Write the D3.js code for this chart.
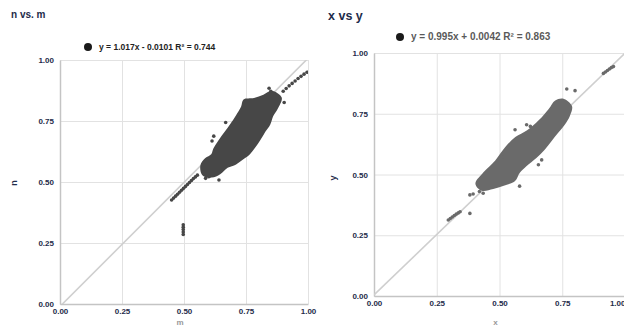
<!DOCTYPE html>
<html>
<head>
<meta charset="utf-8">
<script src="https://cdn.jsdelivr.net/npm/d3@7"></script>
<style>
body { margin: 0; background: #fff; }
svg { display: block; font-family: "Liberation Sans", Arial, sans-serif; }
</style>
</head>
<body>
<svg id="chart" width="624" height="328"></svg>
<script>
// shared axis ticks
const tickValues = [0, 0.25, 0.5, 0.75, 1];
const tickLabels = ["0.00", "0.25", "0.50", "0.75", "1.00"];

// ---- n vs. m ----
const mnTitle = "n vs. m";
const mnXName = "m";
const mnYName = "n";
const mnFitText = "y = 1.017x - 0.0101  R\u00b2 = 0.744";
const mnFit = [1.017, -0.0101]; // slope, intercept
// outline of the dense cloud (m, n)
const mnCloud = [
  [0.566, 0.568], [0.586, 0.598], [0.610, 0.614], [0.618, 0.636], [0.640, 0.672],
  [0.664, 0.706], [0.688, 0.740], [0.710, 0.774], [0.730, 0.808], [0.740, 0.838],
  [0.782, 0.844], [0.820, 0.858], [0.854, 0.874], [0.894, 0.846], [0.878, 0.800],
  [0.860, 0.770], [0.848, 0.736], [0.828, 0.706], [0.808, 0.672], [0.788, 0.642],
  [0.766, 0.614], [0.738, 0.592], [0.710, 0.572], [0.676, 0.558], [0.646, 0.532],
  [0.612, 0.518], [0.574, 0.528]
];
// single points around the cloud and on the diagonal
const mnPoints = [
  [0.843, 0.884], [0.850, 0.872], [0.904, 0.826], [0.668, 0.744], [0.620, 0.688],
  [0.613, 0.668], [0.752, 0.612], [0.587, 0.515], [0.641, 0.508], [0.600, 0.522],
  [0.450, 0.426], [0.458, 0.434], [0.466, 0.442], [0.474, 0.450], [0.482, 0.458],
  [0.490, 0.466], [0.498, 0.474], [0.506, 0.482], [0.514, 0.490], [0.522, 0.498],
  [0.530, 0.506], [0.538, 0.514], [0.546, 0.521], [0.554, 0.528],
  [0.497, 0.285], [0.497, 0.295], [0.497, 0.305], [0.497, 0.315], [0.497, 0.325],
  [0.900, 0.872], [0.912, 0.883], [0.924, 0.894], [0.936, 0.904], [0.948, 0.914],
  [0.960, 0.924], [0.972, 0.933], [0.984, 0.942], [0.996, 0.950]
];

// ---- x vs y ----
const xyTitle = "x vs y";
const xyXName = "x";
const xyYName = "y";
const xyFitText = "y = 0.995x + 0.0042  R\u00b2 = 0.863";
const xyFit = [0.995, 0.0042];
const xyCloud = [
  [0.404, 0.462], [0.437, 0.510], [0.483, 0.558], [0.523, 0.613], [0.563, 0.654],
  [0.610, 0.682], [0.656, 0.723], [0.696, 0.770], [0.722, 0.805], [0.755, 0.812],
  [0.789, 0.781], [0.780, 0.740], [0.760, 0.705], [0.733, 0.671], [0.707, 0.637],
  [0.680, 0.602], [0.647, 0.568], [0.607, 0.534], [0.581, 0.507], [0.561, 0.472],
  [0.517, 0.454], [0.475, 0.440], [0.429, 0.433]
];
const xyPoints = [
  [0.768, 0.852], [0.801, 0.845], [0.562, 0.684], [0.608, 0.705], [0.623, 0.698],
  [0.509, 0.572], [0.668, 0.560], [0.655, 0.540], [0.580, 0.452], [0.382, 0.416],
  [0.395, 0.420], [0.435, 0.423], [0.420, 0.430], [0.382, 0.340],
  [0.296, 0.313], [0.304, 0.319], [0.312, 0.325], [0.320, 0.331], [0.328, 0.337],
  [0.336, 0.342], [0.343, 0.347],
  [0.914, 0.916], [0.922, 0.922], [0.930, 0.928], [0.938, 0.934], [0.946, 0.940],
  [0.954, 0.944]
];

const svg = d3.select("#chart");

function drawPanel(p) {
  const x = d3.scaleLinear().domain([0, 1]).range(p.xr);
  const y = d3.scaleLinear().domain([0, 1]).range(p.yr);
  const g = svg.append("g");

  g.append("clipPath").attr("id", p.id + "-clip")
    .append("rect")
    .attr("x", p.xr[0]).attr("y", p.yr[1])
    .attr("width", p.xr[1] - p.xr[0]).attr("height", p.yr[0] - p.yr[1]);

  // grid
  g.append("g")
    .attr("transform", `translate(0,${p.yr[0]})`)
    .call(d3.axisBottom(x).tickValues(tickValues).tickSize(-(p.yr[0] - p.yr[1])).tickFormat(""))
    .call(a => a.select(".domain").remove())
    .selectAll("line").attr("stroke", "#e2e2e2");
  g.append("g")
    .attr("transform", `translate(${p.xr[0]},0)`)
    .call(d3.axisLeft(y).tickValues(tickValues).tickSize(-(p.xr[1] - p.xr[0])).tickFormat(""))
    .call(a => a.select(".domain").remove())
    .selectAll("line").attr("stroke", "#e2e2e2");

  // axis lines + labels
  const xa = g.append("g")
    .attr("transform", `translate(0,${p.yr[0]})`)
    .call(d3.axisBottom(x).tickValues(tickValues).tickSize(0).tickPadding(4)
      .tickFormat((d, i) => tickLabels[i]));
  const ya = g.append("g")
    .attr("transform", `translate(${p.xr[0]},0)`)
    .call(d3.axisLeft(y).tickValues(tickValues).tickSize(0).tickPadding(6)
      .tickFormat((d, i) => tickLabels[i]));
  [xa, ya].forEach(a => {
    a.select(".domain").attr("stroke", "#c4c4c4").attr("stroke-width", 1.5);
    a.selectAll("text")
      .attr("font-size", 8).attr("font-weight", "bold")
      .attr("fill", "#1e2b4a").attr("font-family", "Liberation Sans, Arial, sans-serif");
  });
  if (p.lastTickEnd) {
    xa.selectAll("text").filter(d => d === 1).attr("text-anchor", "end").attr("x", 0);
  }

  const plot = g.append("g").attr("clip-path", `url(#${p.id}-clip)`);

  // regression line
  plot.append("line")
    .attr("x1", x(0)).attr("y1", y(p.fit[1]))
    .attr("x2", x(1)).attr("y2", y(p.fit[0] + p.fit[1]))
    .attr("stroke", "#cfcfcf").attr("stroke-width", 1.6);

  // dense cloud
  plot.append("path")
    .datum(p.cloud)
    .attr("d", d3.line().x(d => x(d[0])).y(d => y(d[1])).curve(d3.curveCatmullRomClosed))
    .attr("fill", p.color);

  plot.selectAll("circle.pt")
    .data(p.points)
    .join("circle")
    .attr("class", "pt")
    .attr("cx", d => x(d[0])).attr("cy", d => y(d[1]))
    .attr("r", 1.8)
    .attr("fill", p.color);

  // title
  g.append("text")
    .attr("x", p.titlePos[0]).attr("y", p.titlePos[1])
    .attr("font-size", p.titleSize).attr("font-weight", "bold")
    .attr("fill", "#1e2b4a")
    .text(p.title);

  // legend
  g.append("circle")
    .attr("cx", p.legendPos[0]).attr("cy", p.legendPos[1])
    .attr("r", 4).attr("fill", "#1a1a1a");
  g.append("text")
    .attr("x", p.legendPos[0] + 11).attr("y", p.legendPos[1] + 3)
    .attr("font-size", p.legendSize).attr("font-weight", "bold")
    .attr("fill", "#222").attr("opacity", p.legendOpacity)
    .text(p.fitText);

  // axis names
  g.append("text")
    .attr("transform", `translate(${p.yNamePos[0]},${p.yNamePos[1]}) rotate(-90)`)
    .attr("text-anchor", "middle")
    .attr("font-size", 9).attr("font-weight", "bold").attr("fill", "#1e2b4a")
    .text(p.yName);
  g.append("text")
    .attr("x", (p.xr[0] + p.xr[1]) / 2 - 4).attr("y", 325)
    .attr("text-anchor", "middle")
    .attr("font-size", 8).attr("font-weight", "bold").attr("fill", "#999")
    .text(p.xName);
}

drawPanel({
  id: "mn", xr: [60, 308], yr: [304, 60],
  title: mnTitle, titlePos: [11, 18], titleSize: 10,
  fit: mnFit, fitText: mnFitText, legendPos: [88, 47], legendSize: 8.5, legendOpacity: 1,
  cloud: mnCloud, points: mnPoints, color: "#474747",
  xName: mnXName, yName: mnYName, yNamePos: [17, 183]
});

drawPanel({
  id: "xy", xr: [374, 625], yr: [296, 53], lastTickEnd: true,
  title: xyTitle, titlePos: [328, 20], titleSize: 12.5,
  fit: xyFit, fitText: xyFitText, legendPos: [400, 37], legendSize: 10, legendOpacity: 0.75,
  cloud: xyCloud, points: xyPoints, color: "#6a6a6a",
  xName: xyXName, yName: xyYName, yNamePos: [336, 178]
});
</script>
</body>
</html>
